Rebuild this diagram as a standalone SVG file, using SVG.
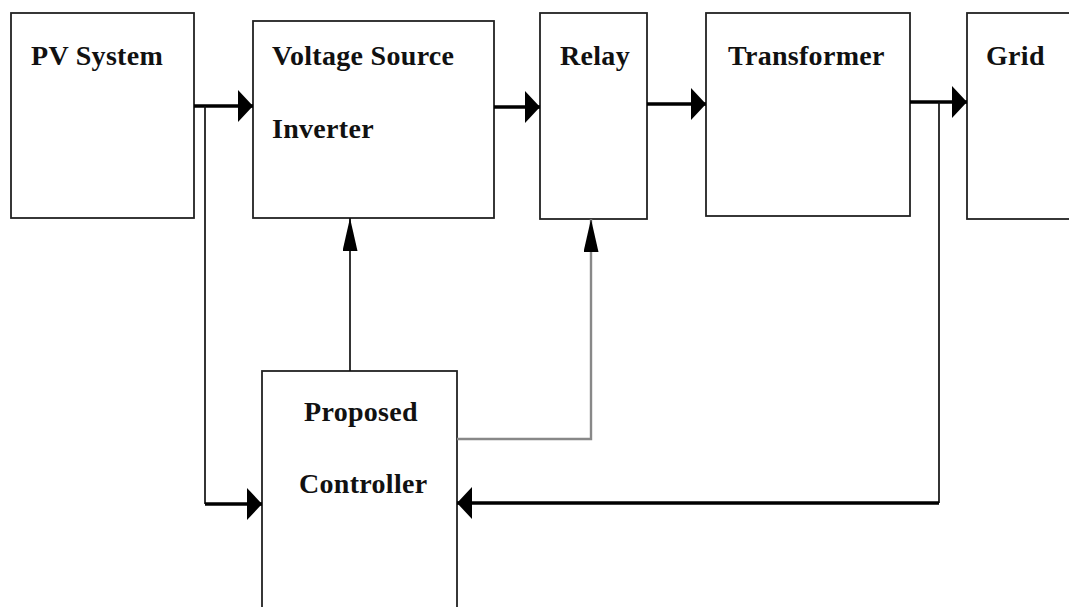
<svg xmlns="http://www.w3.org/2000/svg" width="1069" height="607" viewBox="0 0 1069 607">
<style>
.box{fill:#fff;stroke:#222;stroke-width:1.8}
.lbl{font-family:"Liberation Serif","Times New Roman",serif;font-weight:bold;font-size:28px;letter-spacing:0.3px;fill:#111}
.thick{fill:none;stroke:#000;stroke-width:3.4}
.thin{fill:none;stroke:#111;stroke-width:1.7}
.gray{fill:none;stroke:#888;stroke-width:2.4}
</style>
<defs>
<marker id="big" markerUnits="userSpaceOnUse" markerWidth="15" markerHeight="32" refX="15" refY="16" orient="auto" viewBox="0 0 15 32">
<path d="M0,0 L15,16 L0,32 Z" fill="#000"/>
</marker>
<marker id="slim" markerUnits="userSpaceOnUse" markerWidth="33" markerHeight="15" refX="33" refY="7.5" orient="auto" viewBox="0 0 33 15">
<path d="M0,0 L33,7.5 L0,15 Z" fill="#000"/>
</marker>
</defs>
<rect width="1069" height="607" fill="#fff"/>
<g id="pv">
<rect class="box" x="11" y="13" width="183" height="205"/>
<text class="lbl" x="31" y="65">PV System</text>
</g>
<g id="vsi">
<rect class="box" x="253" y="21" width="241" height="197"/>
<text class="lbl" x="272" y="65">Voltage Source</text>
<text class="lbl" x="272" y="138">Inverter</text>
</g>
<g id="relay">
<rect class="box" x="540" y="13" width="107" height="206"/>
<text class="lbl" x="560" y="65">Relay</text>
</g>
<g id="transformer">
<rect class="box" x="706" y="13" width="204" height="203"/>
<text class="lbl" x="728" y="65">Transformer</text>
</g>
<g id="grid">
<rect class="box" x="967" y="13" width="120" height="206"/>
<text class="lbl" x="986" y="65">Grid</text>
</g>
<g id="controller">
<rect class="box" x="262" y="371" width="195" height="260"/>
<text class="lbl" x="304" y="421">Proposed</text>
<text class="lbl" x="299" y="493">Controller</text>
</g>
<g id="connectors">
<path class="thick" d="M194,106 H253" marker-end="url(#big)"/>
<path class="thin" d="M205,106 V504"/>
<path class="thick" d="M205,504 H262" marker-end="url(#big)"/>
<path class="thick" d="M494,107 H540" marker-end="url(#big)"/>
<path class="thick" d="M647,104 H706" marker-end="url(#big)"/>
<path class="thick" d="M910,102 H967" marker-end="url(#big)"/>
<path class="thin" d="M939,102 V503"/>
<path class="thick" d="M939,503 H457" marker-end="url(#big)"/>
<path class="thin" d="M350,371 V218" marker-end="url(#slim)"/>
<path class="gray" d="M457,439 H591 V219" marker-end="url(#slim)"/>
</g>
</svg>
